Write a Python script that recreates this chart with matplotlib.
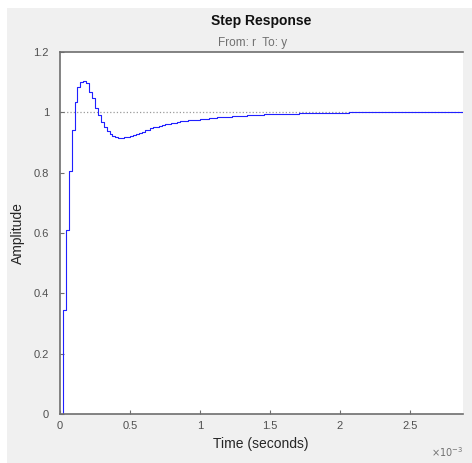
import numpy as np
import matplotlib
matplotlib.use('Agg')
import matplotlib.pyplot as plt
from matplotlib.patches import Rectangle

plt.rcParams['font.family'] = ['Liberation Sans', 'DejaVu Sans']

#----
# data (discrete step response)
#--
Ts = 1. / 48000    #- sample time (s)

y_resp = [0.000, 0.345, 0.610, 0.806, 0.943, 1.033, 1.085, 1.100, 1.104, 1.096,
          1.068, 1.046, 1.013, 0.990, 0.969, 0.952, 0.938, 0.928, 0.921, 0.917,
          0.915, 0.915, 0.917, 0.919, 0.922, 0.925, 0.929, 0.932, 0.936, 0.940,
          0.943, 0.947, 0.950, 0.953, 0.955, 0.958, 0.960, 0.962, 0.964, 0.966,
          0.968, 0.970, 0.971, 0.972, 0.973, 0.974, 0.975, 0.976, 0.977, 0.978,
          0.979, 0.980, 0.981, 0.982, 0.983, 0.984, 0.985, 0.986, 0.986, 0.987,
          0.988, 0.988, 0.989, 0.989, 0.990, 0.990, 0.991, 0.991, 0.992, 0.992,
          0.993, 0.993, 0.993, 0.994, 0.994, 0.994, 0.995, 0.995, 0.995, 0.996,
          0.996, 0.996, 0.997, 0.997, 0.997, 0.997, 0.998, 0.998, 0.998, 0.998,
          0.998, 0.999, 0.999, 0.999, 0.999, 0.999, 0.999, 0.999, 0.999, 1.000,
          1.000, 1.000, 1.000, 1.000, 1.000, 1.000, 1.000, 1.000, 1.000, 1.000,
          1.000, 1.000, 1.000, 1.000, 1.000, 1.000, 1.000, 1.000, 1.000, 1.000,
          1.000, 1.000, 1.000, 1.000, 1.000, 1.000, 1.000, 1.000, 1.000, 1.000,
          1.000, 1.000, 1.000, 1.000, 1.000, 1.000, 1.000, 1.000, 1.000]

y_final = 1.0

x_ticks = [0, 0.5e-3, 1e-3, 1.5e-3, 2e-3, 2.5e-3]
x_labels = ['0', '0.5', '1', '1.5', '2', '2.5']
y_ticks = [0, 0.2, 0.4, 0.6, 0.8, 1, 1.2]
y_labels = ['0', '0.2', '0.4', '0.6', '0.8', '1', '1.2']

t = np.arange(len(y_resp)) * Ts

W, H = 472, 463
fig = plt.figure(figsize=(W/100., H/100.), dpi=100)
fig.patch.set_facecolor('white')
fig.patches.append(Rectangle((7./W, 0), 1 - 7./W, (H-8.)/H, transform=fig.transFigure,
                             facecolor='#f0f0f0', edgecolor='none', zorder=-1))

ax = fig.add_axes([60./W, (H-414.)/H, (463.-60.)/W, (414.-52.)/H])
ax.set_facecolor('white')

ax.axhline(y_final, color='#9a9a9a', ls=':', lw=0.9, zorder=1)
ax.step(t, y_resp, where='post', color='#2020ff', lw=0.8, zorder=2)

ax.set_xlim(0, 2.88e-3)
ax.set_ylim(0, 1.2)
ax.set_xticks(x_ticks)
ax.set_xticklabels(x_labels)
ax.set_yticks(y_ticks)
ax.set_yticklabels(y_labels)

for s in ['left', 'bottom', 'top']:
    ax.spines[s].set_color('#6e6e6e')
    ax.spines[s].set_linewidth(1.2)
ax.spines['right'].set_visible(False)

ax.tick_params(direction='in', length=3, width=0.8, color='#6e6e6e',
               labelcolor='#505050', labelsize=8, pad=5)
ax.tick_params(axis='y', pad=8)

ax.set_xlabel('Time (seconds)', fontsize=10, color='#262626')
ax.set_ylabel('Amplitude', fontsize=10, color='#262626')
ax.xaxis.set_label_coords((261. - 60.) / 403., -(437. - 414.) / 362.)
ax.yaxis.set_label_coords(-(60. - 25.) / 403., (414. - 233.) / 362.)

fig.text(261./W, 1 - 21./H, 'Step Response', ha='center', va='center',
         fontsize=10, fontweight='bold', color='#111111')
fig.text(253./W, 1 - 43./H, 'From: r  To: y', ha='center', va='center',
         fontsize=8.5, color='#707070')
fig.text(447./W, 1 - 452./H, r'$\times10^{-3}$', ha='center', va='center',
         fontsize=7, color='#707070')

plt.savefig('out.png', dpi=100)
